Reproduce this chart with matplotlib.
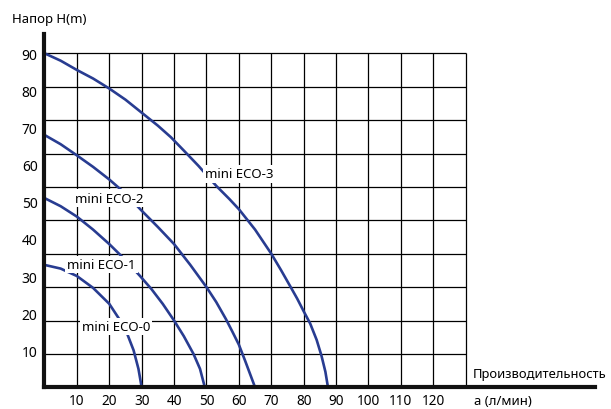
import numpy as np
import matplotlib
matplotlib.use('Agg')
import matplotlib.pyplot as plt

plt.rcParams['font.family'] = ['Noto Sans', 'DejaVu Sans']

# pump curves: flow (l/min) vs head (m)
eco0_q = [0, 5, 10, 15, 20, 23, 25.5, 27.5, 29, 30]
eco0_h = [33, 32, 30, 26.8, 22.5, 18.5, 14.5, 10, 5, 0]

eco1_q = [0, 5, 10, 15, 20, 25, 29.5, 33, 36.5, 40, 43, 46, 48, 49.5]
eco1_h = [51, 48.8, 46, 42.5, 38.6, 34.3, 30, 26.5, 22.5, 18, 13.8, 9, 5, 0]

eco2_q = [0, 5, 10, 15, 20, 25, 30, 35, 40, 45, 50, 53, 56, 58, 60, 62, 63.5, 65]
eco2_h = [68, 65.5, 62.5, 59.4, 56, 52.2, 47.6, 43.2, 38.6, 33, 27, 23, 18.4, 15, 11.5, 7, 3.5, 0]

eco3_q = [0, 5, 10, 15, 20, 25, 30, 35, 39, 43, 47.5, 53, 57, 60, 65, 70, 73, 76, 78, 80, 82, 84, 85.5, 86.7, 87.5]
eco3_h = [90, 88, 85.5, 83.2, 80.5, 77.5, 74, 70.5, 67.4, 63.8, 59.7, 54.3, 50.8, 48, 42.5, 36, 31.6, 27, 23.9, 20.5, 17.2, 12.8, 8.5, 4.2, 0]

labels = ['mini ECO-0', 'mini ECO-1', 'mini ECO-2', 'mini ECO-3']
label_q = [11.5, 7.0, 9.4, 49.5]
label_h = [16.5, 33, 51, 57.5]

x_ticks = list(range(10, 130, 10))
y_ticks = list(range(10, 100, 10))

blue = '#283c91'

fig = plt.figure(figsize=(6.11, 4.10), dpi=100)
ax = fig.add_axes([0.0728, 0.0527, 0.9015, 0.862])

# grid (10 rows up to 90 m, 13 columns up to 130 l/min)
ax.vlines(np.arange(10, 131, 10), 0, 90, color='black', lw=0.9, zorder=1)
ax.hlines(np.arange(9, 91, 9), 0, 130, color='black', lw=0.9, zorder=1)

for q, h in [(eco0_q, eco0_h), (eco1_q, eco1_h), (eco2_q, eco2_h), (eco3_q, eco3_h)]:
    ax.plot(q, h, color=blue, lw=1.9, zorder=2, clip_on=False, solid_joinstyle='round')

for txt, q, h in zip(labels, label_q, label_h):
    ax.text(q, h, txt, fontsize=9.5, ha='left', va='center', zorder=3,
            bbox=dict(facecolor='white', edgecolor='none', pad=1.5))

ax.set_xlim(0, 170)
ax.set_ylim(0, 95.2)
ax.set_xticks(x_ticks)
ax.set_yticks(y_ticks)
ax.tick_params(axis='x', length=0, labelsize=9.8, pad=4)
ax.tick_params(axis='y', length=0, labelsize=10, pad=5)

for s in ['top', 'right']:
    ax.spines[s].set_visible(False)
for s in ['left', 'bottom']:
    ax.spines[s].set_linewidth(3)
    ax.spines[s].set_color('#111111')

fig.text(11.7 / 611, 1 - 20 / 410, 'Напор H(m)', fontsize=9.5, va='center', ha='left')
fig.text(472.7 / 611, 1 - 375 / 410, 'Производительность', fontsize=9.3, va='center', ha='left')
fig.text(474 / 611, 1 - 401.7 / 410, 'а (л/мин)', fontsize=9.5, va='center', ha='left')

fig.savefig('out.png', dpi=100)
